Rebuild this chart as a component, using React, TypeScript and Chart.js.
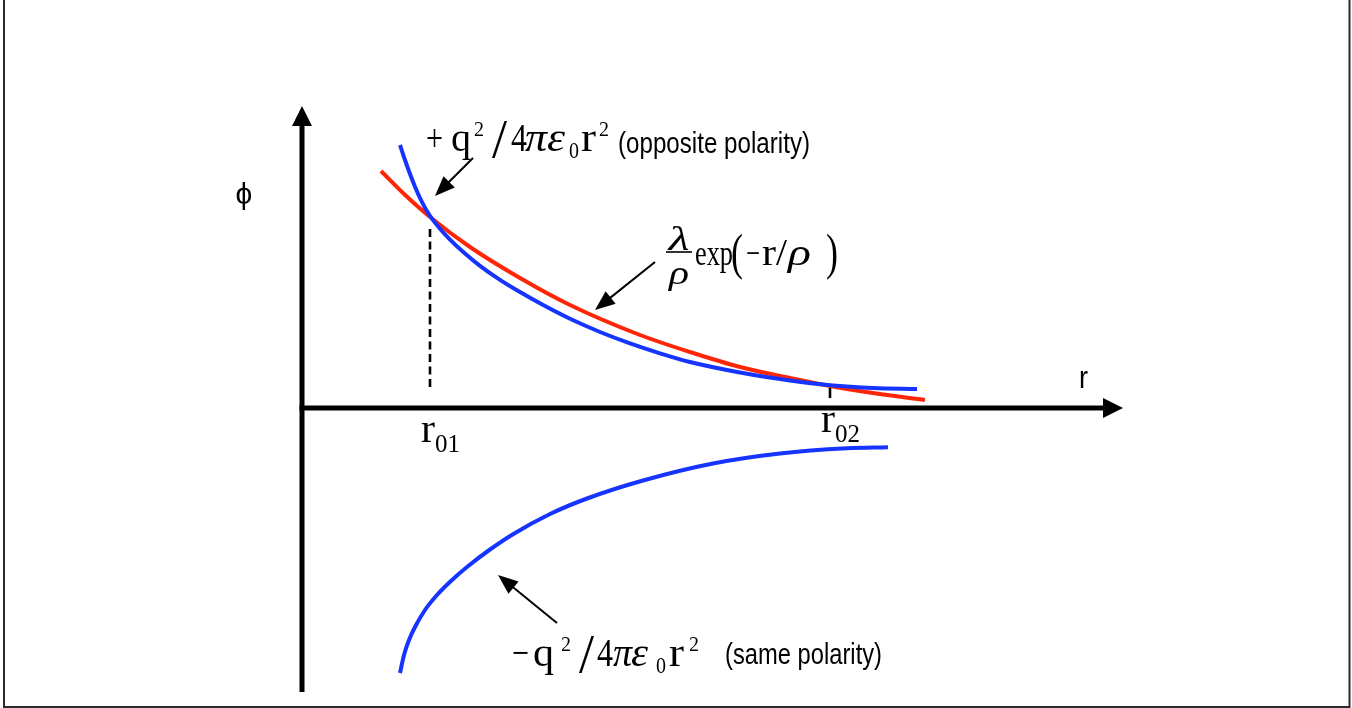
import { useEffect, useRef } from "react";
import { Chart, registerables } from "chart.js";

Chart.register(...registerables);

// Distance r (abscissa) and potential φ (ordinate) sampled along each curve.
// +q²/4πε₀r² : Coulomb term, opposite polarity
const oppositeR = [0.98, 1.03, 1.08, 1.13, 1.18, 1.23, 1.28, 1.38, 1.48, 1.63, 1.78, 1.98, 2.18, 2.43, 2.68, 2.98, 3.28, 3.58, 3.88, 4.38, 4.88, 5.28, 5.71, 6.15];
const oppositePhi = [2.63, 2.48, 2.34, 2.213, 2.1, 2.003, 1.922, 1.792, 1.684, 1.544, 1.421, 1.281, 1.159, 1.019, 0.892, 0.76, 0.646, 0.547, 0.46, 0.355, 0.275, 0.228, 0.2, 0.19];

// (λ/ρ)·exp(−r/ρ) : overlap repulsion
const overlapR = [0.79, 1.01, 1.28, 1.68, 2.18, 2.68, 3.38, 3.88, 4.38, 4.88, 5.28, 5.71, 6.23];
const overlapPhi = [2.37, 2.15, 1.91, 1.61, 1.3, 1.03, 0.73, 0.56, 0.41, 0.3, 0.22, 0.15, 0.08];

// −q²/4πε₀r² : Coulomb term, same polarity
const sameR = [0.98, 1.02, 1.07, 1.13, 1.23, 1.35, 1.5, 1.65, 1.88, 2.11, 2.48, 2.85, 3.41, 4.11, 4.78, 5.45, 5.86];
const samePhi = [-2.65, -2.47, -2.32, -2.19, -2.02, -1.87, -1.72, -1.59, -1.415, -1.262, -1.06, -0.905, -0.725, -0.555, -0.455, -0.403, -0.392];

// Radii where the two upper curves cross, labelled on the r axis
const crossingR = [1.28, 5.28];
const crossingSub = ["01", "02"];
const crossingPhi = [1.91, 0.22];

// Axis extents (arrow tips)
const rAxisEnd = 8.21;
const phiAxisTop = 3.02;
const phiAxisBottom = -2.84;

const BLUE = "rgb(22,52,255)";
const RED = "rgb(255,38,8)";
const SERIF = '"Liberation Serif", "Times New Roman", serif';
const SANS = '"Liberation Sans", Arial, sans-serif';

type Run = { t: string; font: string; dx: number; dy?: number; w?: number; center?: boolean };

function drawRuns(ctx: CanvasRenderingContext2D, x0: number, y0: number, runs: Run[]) {
  ctx.textBaseline = "alphabetic";
  ctx.textAlign = "left";
  for (const r of runs) {
    ctx.font = r.font;
    const natural = ctx.measureText(r.t).width;
    const sx = r.w ? r.w / natural : 1;
    const width = natural * sx;
    const left = x0 + r.dx - (r.center ? width / 2 : 0);
    ctx.save();
    ctx.translate(left, y0 + (r.dy ?? 0));
    ctx.scale(sx, 1);
    ctx.fillText(r.t, 0, 0);
    ctx.restore();
  }
}

function arrow(
  ctx: CanvasRenderingContext2D,
  x0: number, y0: number, x1: number, y1: number,
  len: number, half: number, lw: number
) {
  const a = Math.atan2(y1 - y0, x1 - x0);
  const bx = x1 - len * Math.cos(a);
  const by = y1 - len * Math.sin(a);
  ctx.lineWidth = lw;
  ctx.lineCap = "butt";
  ctx.beginPath();
  ctx.moveTo(x0, y0);
  ctx.lineTo(bx + Math.cos(a), by + Math.sin(a));
  ctx.stroke();
  ctx.beginPath();
  ctx.moveTo(x1, y1);
  ctx.lineTo(bx - half * Math.sin(a), by + half * Math.cos(a));
  ctx.lineTo(bx + half * Math.sin(a), by - half * Math.cos(a));
  ctx.closePath();
  ctx.fill();
}

const diagramPlugin = {
  id: "potentialDiagram",
  beforeDatasetsDraw(chart: Chart) {
    const ctx = chart.ctx;
    const xs = chart.scales.x;
    const ys = chart.scales.y;
    const px = (v: number) => xs.getPixelForValue(v);
    const py = (v: number) => ys.getPixelForValue(v);
    ctx.save();

    // open frame around the figure
    ctx.strokeStyle = "#2b2b2b";
    ctx.lineWidth = 2;
    ctx.beginPath();
    ctx.moveTo(4, 0);
    ctx.lineTo(4, 707);
    ctx.lineTo(1349.5, 707);
    ctx.lineTo(1349.5, 0);
    ctx.stroke();

    // φ and r axes
    ctx.strokeStyle = "#000";
    ctx.fillStyle = "#000";
    arrow(ctx, px(0), py(phiAxisBottom), px(0), py(phiAxisTop), 20, 10, 5);
    arrow(ctx, px(0) - 2.5, py(0), px(rAxisEnd), py(0), 20, 10, 5);

    // dashed drop line at r01 and tick at r02
    ctx.lineWidth = 2.6;
    ctx.setLineDash([8, 4.5]);
    ctx.beginPath();
    ctx.moveTo(px(crossingR[0]), py(crossingPhi[0]) + 12);
    ctx.lineTo(px(crossingR[0]), py(0) - 18);
    ctx.stroke();
    ctx.setLineDash([]);
    ctx.beginPath();
    ctx.moveTo(px(crossingR[1]), py(crossingPhi[1]) + 2);
    ctx.lineTo(px(crossingR[1]), py(0) - 10);
    ctx.stroke();
    ctx.restore();
  },
  afterDatasetsDraw(chart: Chart) {
    const ctx = chart.ctx;
    const xs = chart.scales.x;
    const ys = chart.scales.y;
    const px = (v: number) => xs.getPixelForValue(v);
    const py = (v: number) => ys.getPixelForValue(v);
    ctx.save();
    ctx.fillStyle = "#000";
    ctx.strokeStyle = "#000";

    // axis names
    ctx.font = `30px ${SANS}`;
    ctx.textAlign = "center";
    ctx.textBaseline = "middle";
    ctx.fillText("ϕ", px(0) - 58, py(2.12));
    drawRuns(ctx, px(rAxisEnd) - 44, py(0) - 20, [{ t: "r", font: `32px ${SANS}`, dx: 0, w: 9 }]);

    // r01 / r02 labels
    const lifts = [0, 10];
    crossingR.forEach((r, i) => {
      drawRuns(ctx, px(r) - 9, py(0) + 34 - lifts[i], [
        { t: "r", font: `39px ${SERIF}`, dx: 0, w: 14 },
        { t: crossingSub[i], font: `26px ${SERIF}`, dx: 14, dy: 10, w: 25 },
      ]);
    });

    // +q²/4πε₀r² (opposite polarity)
    drawRuns(ctx, px(1.24), py(2.57), [
      { t: "+", font: `38px ${SERIF}`, dx: 0, w: 17 },
      { t: "q", font: `40px ${SERIF}`, dx: 25, w: 20 },
      { t: "2", font: `21px ${SERIF}`, dx: 48, dy: -15, w: 10 },
      { t: "/", font: `54px ${SERIF}`, dx: 66, dy: 6, w: 15 },
      { t: "4", font: `40px ${SERIF}`, dx: 85, w: 16 },
      { t: "π", font: `italic 40px ${SERIF}`, dx: 99, w: 22 },
      { t: "ε", font: `italic 40px ${SERIF}`, dx: 121, w: 18 },
      { t: "0", font: `23px ${SERIF}`, dx: 143, dy: 7, w: 10 },
      { t: "r", font: `40px ${SERIF}`, dx: 155, w: 15 },
      { t: "2", font: `21px ${SERIF}`, dx: 173, dy: -15, w: 10 },
      { t: "(opposite polarity)", font: `29px ${SANS}`, dx: 192, dy: 2, w: 192 },
    ]);

    // −q²/4πε₀r² (same polarity)
    drawRuns(ctx, px(2.1), py(-2.58), [
      { t: "−", font: `40px ${SERIF}`, dx: 0, w: 17 },
      { t: "q", font: `40px ${SERIF}`, dx: 21, w: 21 },
      { t: "2", font: `21px ${SERIF}`, dx: 49, dy: -15, w: 10 },
      { t: "/", font: `54px ${SERIF}`, dx: 67, dy: 6, w: 15 },
      { t: "4", font: `40px ${SERIF}`, dx: 85, w: 16 },
      { t: "π", font: `italic 40px ${SERIF}`, dx: 101, w: 19 },
      { t: "ε", font: `italic 40px ${SERIF}`, dx: 119, w: 17 },
      { t: "0", font: `23px ${SERIF}`, dx: 144, dy: 7, w: 10 },
      { t: "r", font: `40px ${SERIF}`, dx: 157, w: 15 },
      { t: "2", font: `21px ${SERIF}`, dx: 177, dy: -15, w: 10 },
      { t: "(same polarity)", font: `29px ${SANS}`, dx: 213, dy: -2, w: 157 },
    ]);

    // (λ/ρ) exp(−r/ρ)
    const ex = px(3.93);
    const ey = py(1.43);
    drawRuns(ctx, ex, ey, [
      { t: "λ", font: `italic 34px ${SERIF}`, dx: -16, dy: -15, center: true, w: 21 },
      { t: "ρ", font: `italic 34px ${SERIF}`, dx: -16, dy: 19, center: true, w: 20 },
      { t: "exp", font: `36px ${SERIF}`, dx: 0, w: 38 },
      { t: "(", font: `50px ${SERIF}`, dx: 36, dy: 4, w: 12 },
      { t: "−", font: `36px ${SERIF}`, dx: 51, w: 14 },
      { t: "r", font: `38px ${SERIF}`, dx: 67, w: 14 },
      { t: "/", font: `38px ${SERIF}`, dx: 81, w: 11 },
      { t: "ρ", font: `italic 38px ${SERIF}`, dx: 93, w: 23 },
      { t: ")", font: `50px ${SERIF}`, dx: 131, dy: 4, w: 12 },
    ]);
    ctx.lineWidth = 1.6;
    ctx.beginPath();
    ctx.moveTo(ex - 29, ey - 13);
    ctx.lineTo(ex - 3, ey - 13);
    ctx.stroke();

    // pointer arrows to each curve
    arrow(ctx, px(1.71), py(2.5), px(1.33), py(2.12), 20, 8, 2);
    arrow(ctx, px(3.53), py(1.46), px(2.93), py(0.98), 20, 8, 2);
    arrow(ctx, px(2.55), py(-2.15), px(1.96), py(-1.67), 20, 8, 2);
    ctx.restore();
  },
};

export default function App() {
  const canvasRef = useRef<HTMLCanvasElement | null>(null);

  useEffect(() => {
    const canvas = canvasRef.current;
    if (!canvas) return;
    const toPoints = (xs: number[], ys: number[]) => xs.map((x, i) => ({ x, y: ys[i] }));
    const curve = {
      showLine: true,
      borderWidth: 4,
      pointRadius: 0,
      pointHoverRadius: 0,
      fill: false,
      cubicInterpolationMode: "monotone" as const,
    };
    const chart = new Chart(canvas, {
      type: "scatter",
      data: {
        datasets: [
          { ...curve, label: "+q²/4πε₀r²", data: toPoints(oppositeR, oppositePhi), borderColor: BLUE, order: 0 },
          { ...curve, label: "−q²/4πε₀r²", data: toPoints(sameR, samePhi), borderColor: BLUE, order: 1 },
          { ...curve, label: "(λ/ρ)exp(−r/ρ)", data: toPoints(overlapR, overlapPhi), borderColor: RED, order: 2 },
        ],
      },
      options: {
        responsive: false,
        animation: false,
        events: [],
        layout: { padding: 0, autoPadding: false },
        scales: {
          x: { type: "linear", min: -3.02, max: 10.5, display: false },
          y: { type: "linear", min: -3.0, max: 4.08, display: false },
        },
        plugins: { legend: { display: false }, tooltip: { enabled: false } },
      },
      plugins: [diagramPlugin],
    });
    return () => chart.destroy();
  }, []);

  return (
    <div style={{ position: "fixed", left: 0, top: 0, width: 1352, height: 708, background: "#fff" }}>
      <canvas ref={canvasRef} width={1352} height={708} style={{ display: "block" }} />
    </div>
  );
}
